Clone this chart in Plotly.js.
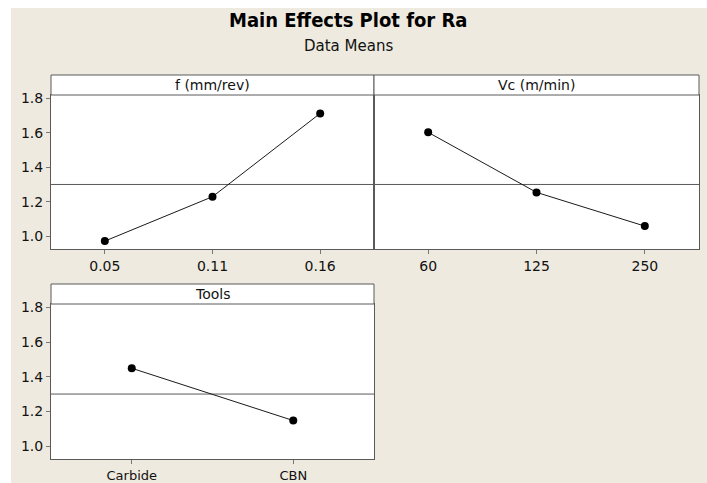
<!DOCTYPE html>
<html><head><meta charset="utf-8">
<script src="https://cdn.plot.ly/plotly-3.0.1.min.js"></script>
<style>html,body{margin:0;padding:0;background:#fff}</style>
</head><body><div id="chart" style="width:707px;height:483px"></div>
<script>
// ---- data ----
const fLevels = ['0.05', '0.11', '0.16'];
const fMeans = [0.971, 1.229, 1.713];
const vcLevels = ['60', '125', '250'];
const vcMeans = [1.603, 1.254, 1.058];
const toolLevels = ['Carbide', 'CBN'];
const toolMeans = [1.449, 1.147];
const grandMean = 1.30;
const panelTitles = ['f (mm/rev)', 'Vc (m/min)', 'Tools'];
const yTickVals = [1.0, 1.2, 1.4, 1.6, 1.8];
const yTickText = ['1.0', '1.2', '1.4', '1.6', '1.8'];
const chartTitle = 'Main Effects Plot for Ra';
const chartSubtitle = 'Data Means';

// ---- layout helpers (pixels -> paper) ----
const W = 707, H = 483;
const px = x => x / W;
const py = y => 1 - y / H;
const FONT = 'DejaVu Sans, Verdana, sans-serif';
const LINE = '#5a5a5a';
const BEIGE = '#EEEADF';

const panels = [
  {x0: 51, x1: 374, top: 75, strip: 95, bottom: 249},
  {x0: 374, x1: 699, top: 75, strip: 95, bottom: 249},
  {x0: 51, x1: 374, top: 284, strip: 304, bottom: 459}
];

const trace = (x, y, xa, ya) => ({
  x: x, y: y, xaxis: xa, yaxis: ya, type: 'scatter', mode: 'lines+markers',
  line: {color: '#1a1a1a', width: 1},
  marker: {color: '#000', size: 8},
  hoverinfo: 'x+y', showlegend: false, cliponaxis: false
});

const data = [
  trace(fLevels, fMeans, 'x', 'y'),
  trace(vcLevels, vcMeans, 'x2', 'y2'),
  trace(toolLevels, toolMeans, 'x3', 'y3')
];

const xax = (p, n, fs) => ({
  domain: [px(p.x0), px(p.x1)], type: 'category', range: [-0.5, n - 0.5],
  showline: true, mirror: true, linecolor: LINE, linewidth: 1,
  ticks: 'outside', ticklen: 4, tickcolor: '#777', showgrid: false, zeroline: false,
  tickfont: {family: FONT, size: fs, color: '#111'}, fixedrange: true
});
const yax = (p, labels, anchor) => ({
  domain: [py(p.bottom), py(p.strip)], range: [0.925, 1.82], anchor: anchor,
  tickvals: yTickVals, ticktext: yTickText, showticklabels: labels,
  ticks: labels ? 'outside' : '', ticklen: 4, tickcolor: '#777',
  showline: true, mirror: true, linecolor: LINE, linewidth: 1,
  showgrid: false, zeroline: false,
  tickfont: {family: FONT, size: 14, color: '#111'}, fixedrange: true
});

const shapes = [];
const annotations = [];
const yrefs = ['y', 'y2', 'y3'];
const xrefs = ['x', 'x2', 'x3'];
panels.forEach((p, i) => {
  shapes.push({type: 'rect', xref: 'paper', yref: 'paper',
    x0: px(p.x0), x1: px(p.x1), y0: py(p.strip), y1: py(p.top),
    fillcolor: '#fff', line: {color: LINE, width: 1}});
  shapes.push({type: 'line', xref: xrefs[i] + ' domain', yref: yrefs[i],
    x0: 0, x1: 1, y0: grandMean, y1: grandMean,
    line: {color: LINE, width: 1}, layer: 'below'});
  annotations.push({xref: 'paper', yref: 'paper', x: px((p.x0 + p.x1) / 2), y: py((p.top + p.strip) / 2),
    text: panelTitles[i], showarrow: false, xanchor: 'center', yanchor: 'middle',
    font: {family: FONT, size: 14, color: '#111'}});
});
// white outer border of the picture
shapes.push({type: 'rect', xref: 'paper', yref: 'paper', x0: 0, x1: px(11), y0: 0, y1: 1,
  fillcolor: '#fff', line: {width: 0}});
shapes.push({type: 'rect', xref: 'paper', yref: 'paper', x0: 0, x1: 1, y0: py(8), y1: 1,
  fillcolor: '#fff', line: {width: 0}});

annotations.push({xref: 'paper', yref: 'paper', x: px(348), y: py(20), text: '<b>' + chartTitle + '</b>',
  showarrow: false, xanchor: 'center', yanchor: 'middle',
  font: {family: 'DejaVu Sans Condensed, DejaVu Sans, sans-serif', size: 20, color: '#000'}});
annotations.push({xref: 'paper', yref: 'paper', x: px(348), y: py(46), text: chartSubtitle,
  showarrow: false, xanchor: 'center', yanchor: 'middle',
  font: {family: FONT, size: 15, color: '#111'}});

const layout = {
  width: W, height: H, margin: {l: 0, r: 0, t: 0, b: 0},
  paper_bgcolor: BEIGE, plot_bgcolor: '#fff',
  showlegend: false,
  xaxis: Object.assign(xax(panels[0], 3, 14), {anchor: 'y'}),
  yaxis: yax(panels[0], true, 'x'),
  xaxis2: Object.assign(xax(panels[1], 3, 14), {anchor: 'y2'}),
  yaxis2: yax(panels[1], false, 'x2'),
  xaxis3: Object.assign(xax(panels[2], 2, 13), {anchor: 'y3'}),
  yaxis3: yax(panels[2], true, 'x3'),
  shapes: shapes, annotations: annotations
};

Plotly.newPlot('chart', data, layout, {displayModeBar: false, staticPlot: true});
</script></body></html>
